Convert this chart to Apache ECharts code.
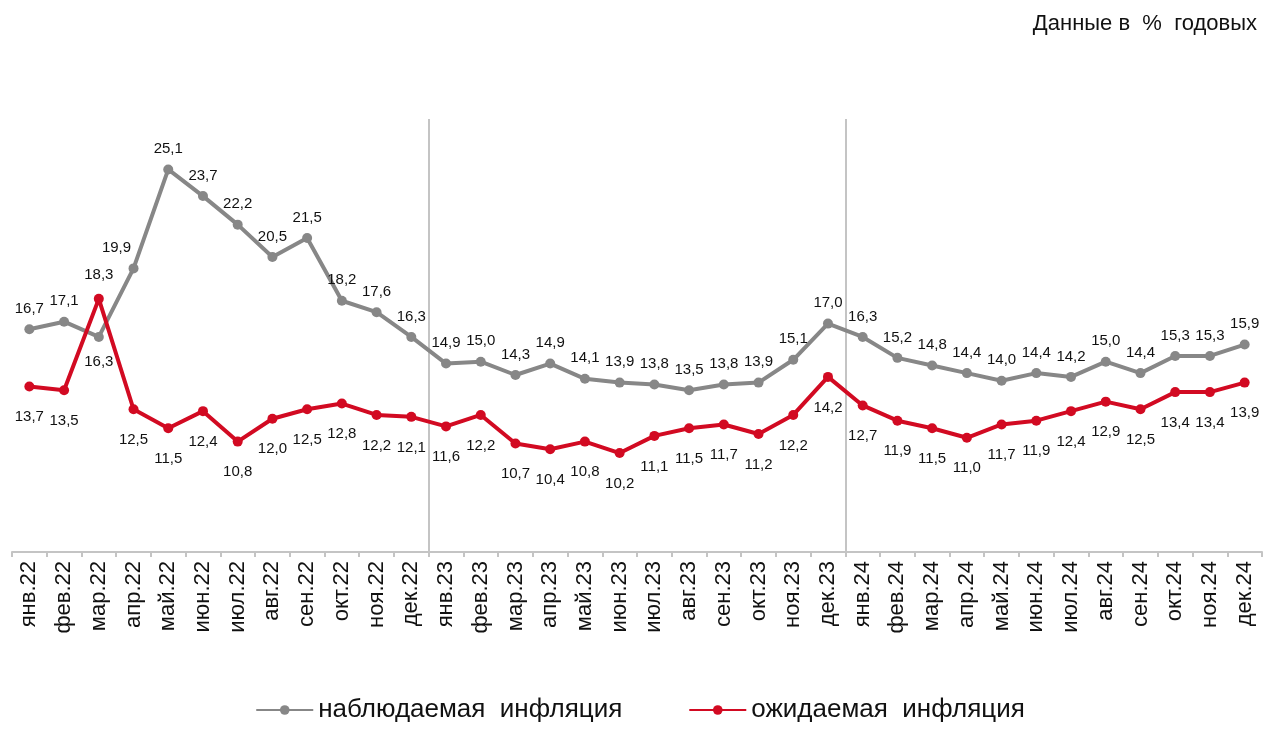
<!DOCTYPE html>
<html>
<head>
<meta charset="utf-8">
<script src="https://cdn.jsdelivr.net/npm/echarts@6/dist/echarts.min.js"></script>
<style>
  html, body { margin: 0; padding: 0; background: #fff; }
  #chart { width: 1280px; height: 734px; }
</style>
</head>
<body>
<div id="chart"></div>
<script>
var months = ['янв.22','фев.22','мар.22','апр.22','май.22','июн.22','июл.22','авг.22','сен.22','окт.22','ноя.22','дек.22',
              'янв.23','фев.23','мар.23','апр.23','май.23','июн.23','июл.23','авг.23','сен.23','окт.23','ноя.23','дек.23',
              'янв.24','фев.24','мар.24','апр.24','май.24','июн.24','июл.24','авг.24','сен.24','окт.24','ноя.24','дек.24'];
var observed = [16.7,17.1,16.3,19.9,25.1,23.7,22.2,20.5,21.5,18.2,17.6,16.3,
                14.9,15.0,14.3,14.9,14.1,13.9,13.8,13.5,13.8,13.9,15.1,17.0,
                16.3,15.2,14.8,14.4,14.0,14.4,14.2,15.0,14.4,15.3,15.3,15.9];
var expected = [13.7,13.5,18.3,12.5,11.5,12.4,10.8,12.0,12.5,12.8,12.2,12.1,
                11.6,12.2,10.7,10.4,10.8,10.2,11.1,11.5,11.7,11.2,12.2,14.2,
                12.7,11.9,11.5,11.0,11.7,11.9,12.4,12.9,12.5,13.4,13.4,13.9];
var yearBreaks = [12, 24]; // первые месяцы 2023 и 2024

var grayColor = '#878787';
var redColor = '#d20a22';
var sepColor = '#c4c4c4';

function fmt(v) {
  return v.toFixed(1).replace('.', ',');
}

// мар.22: подписи поменяны местами
var observedData = observed.map(function (v, i) {
  if (i === 2) return { value: v, label: { position: 'bottom', distance: 12 } };
  if (i === 3) return { value: v, label: { offset: [-17, 0] } };
  return v;
});
var expectedData = expected.map(function (v, i) {
  if (i === 2) return { value: v, label: { position: 'top', distance: 12 } };
  return v;
});

var chart = echarts.init(document.getElementById('chart'));
chart.setOption({
  animation: false,
  textStyle: { fontFamily: 'Liberation Sans, Arial, sans-serif' },
  title: {
    text: 'Данные в  %  годовых',
    right: 18,
    top: 8,
    textStyle: { fontSize: 22, fontWeight: 'normal', color: '#111' }
  },
  legend: {
    bottom: 6,
    left: 'center',
    itemWidth: 57,
    itemHeight: 12,
    itemGap: 66,
    textStyle: { fontSize: 26, color: '#111' },
    data: ['наблюдаемая  инфляция', 'ожидаемая  инфляция']
  },
  grid: { left: 12, right: 18, top: 119, bottom: 182 },
  xAxis: {
    type: 'category',
    data: months,
    boundaryGap: true,
    axisLine: { lineStyle: { color: sepColor, width: 2 } },
    axisTick: { show: true, interval: 0, length: 5, lineStyle: { color: sepColor, width: 2 } },
    axisLabel: { interval: 0, rotate: 90, fontSize: 22, color: '#111', margin: 9 },
    splitLine: {
      show: true,
      interval: function (index) { return yearBreaks.indexOf(index) >= 0; },
      // третья линия - правая граница оси, её не рисуем
      lineStyle: { color: [sepColor, sepColor, 'rgba(0,0,0,0)'], width: 2 }
    }
  },
  yAxis: {
    type: 'value',
    min: 5,
    max: 27.75,
    show: false,
    splitLine: { show: false }
  },
  series: [
    {
      name: 'наблюдаемая  инфляция',
      type: 'line',
      data: observedData,
      color: grayColor,
      symbol: 'circle',
      symbolSize: 10,
      lineStyle: { width: 4, color: grayColor },
      itemStyle: { color: grayColor },
      label: {
        show: true,
        position: 'top',
        distance: 8,
        fontSize: 15,
        color: '#111',
        formatter: function (p) { return fmt(p.value); }
      }
    },
    {
      name: 'ожидаемая  инфляция',
      type: 'line',
      data: expectedData,
      color: redColor,
      symbol: 'circle',
      symbolSize: 10,
      lineStyle: { width: 4, color: redColor },
      itemStyle: { color: redColor },
      label: {
        show: true,
        position: 'bottom',
        distance: 18,
        fontSize: 15,
        color: '#111',
        formatter: function (p) { return fmt(p.value); }
      }
    }
  ]
});
</script>
</body>
</html>
